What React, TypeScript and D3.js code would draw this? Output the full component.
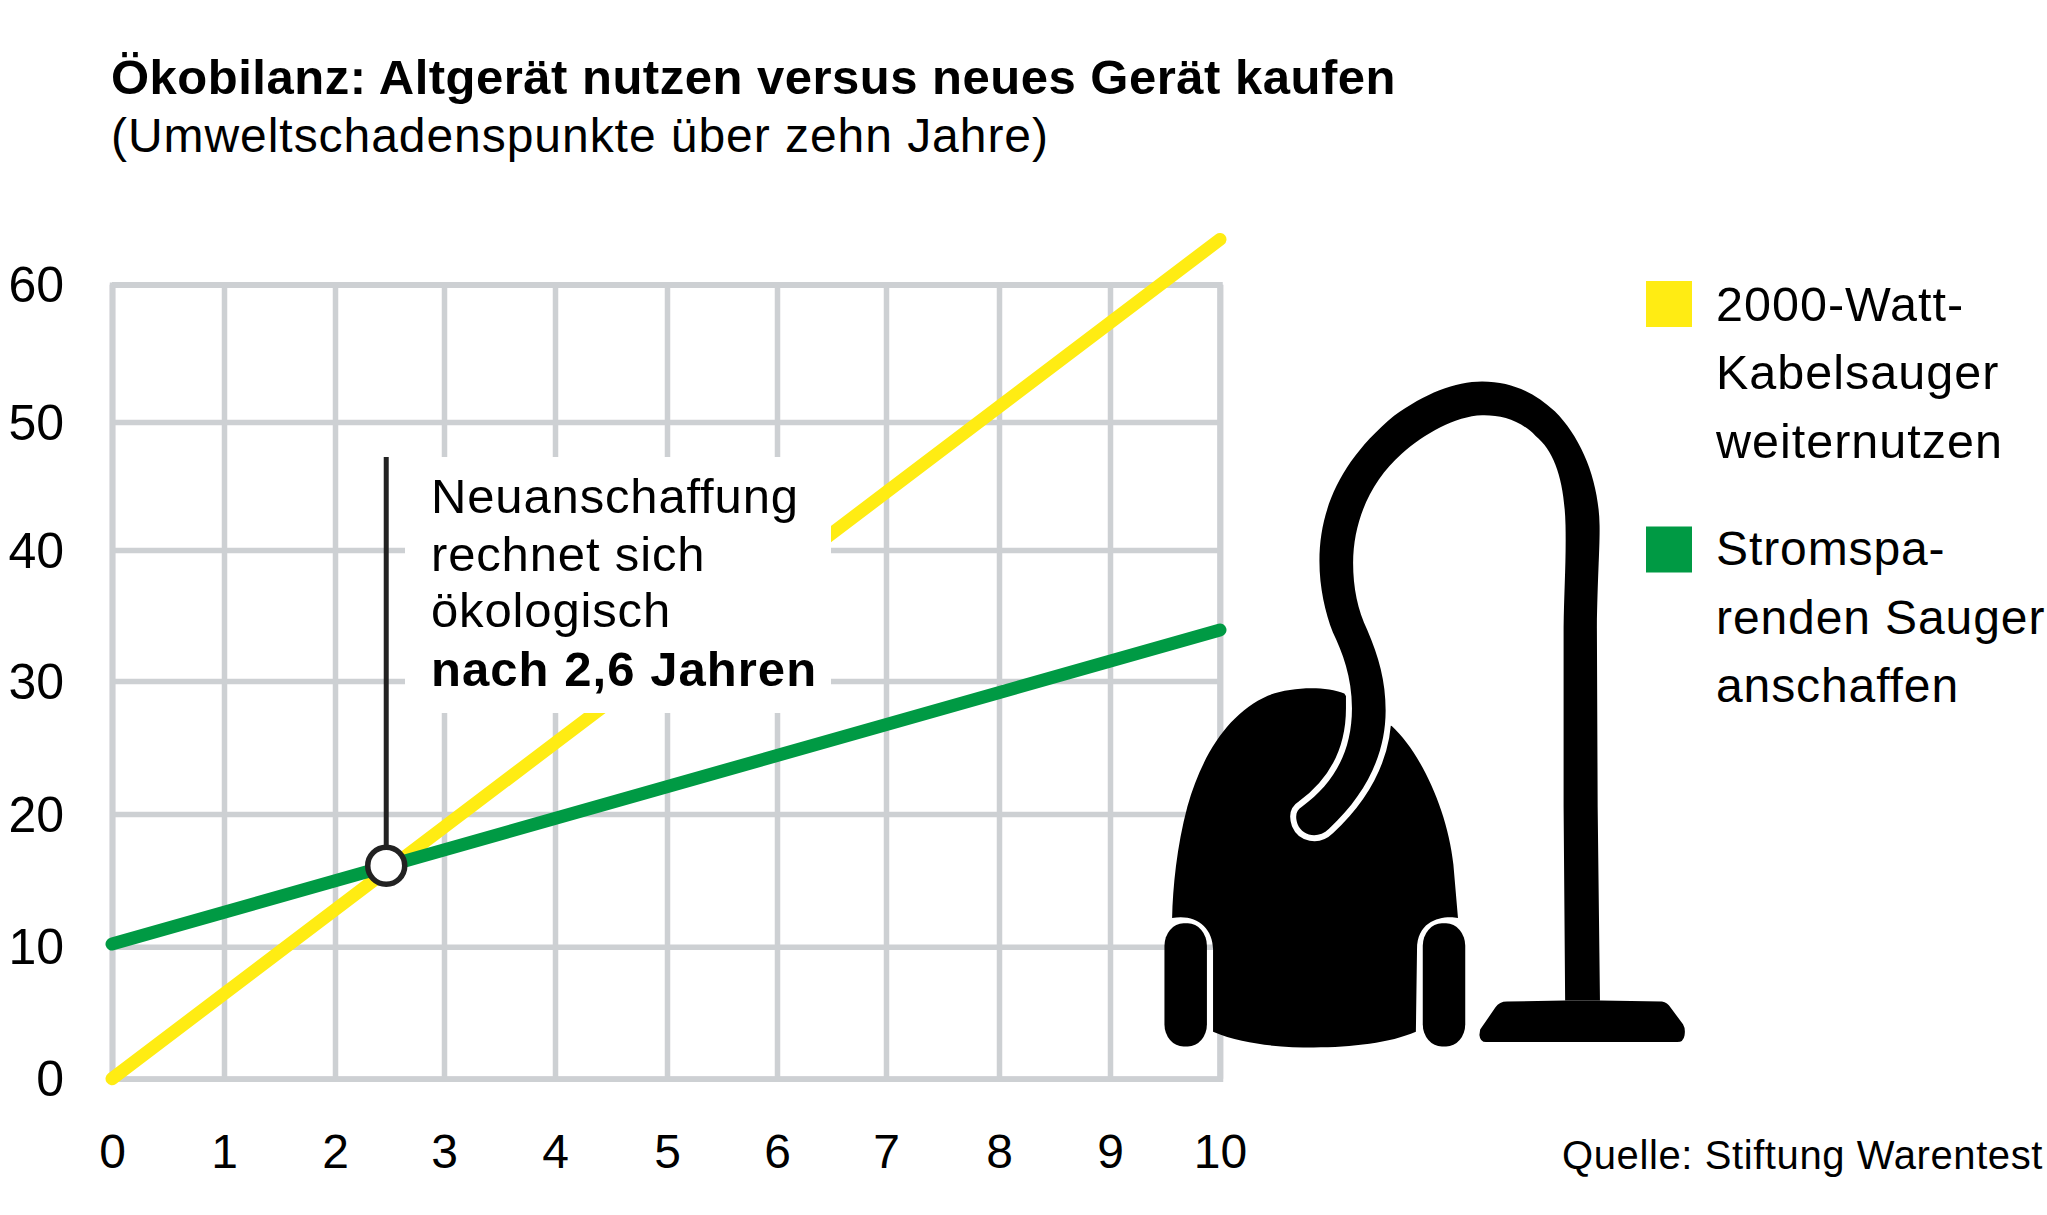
import { useEffect, useRef } from "react";
import * as d3 from "d3";

// values
const xTicks = [0, 1, 2, 3, 4, 5, 6, 7, 8, 9, 10];
const yTicks = [0, 10, 20, 30, 40, 50, 60];
const years = [0, 10];
const altgeraet = [0, 63.3];
const sparsauger = [10.2, 33.9];
const breakEven = { year: 2.47, points: 16.1 };

const titleText = "Ökobilanz: Altgerät nutzen versus neues Gerät kaufen";
const subtitleText = "(Umweltschadenspunkte über zehn Jahre)";
const calloutLines = ["Neuanschaffung", "rechnet sich", "ökologisch"];
const calloutBold = "nach 2,6 Jahren";
const legendYellow = ["2000-Watt-", "Kabelsauger", "weiternutzen"];
const legendGreen = ["Stromspa-", "renden Sauger", "anschaffen"];
const sourceText = "Quelle: Stiftung Warentest";

const FONT = "'Liberation Sans', Arial, sans-serif";
const GRID = "#cdd0d3";
const YELLOW = "#ffec13";
const GREEN = "#009a44";
const INK = "#000";

// vacuum cleaner icon, traced in a 1568x1568 box
const bodyPath =
  "M110,1250 C112,1180 122,1090 150,1000 C190,880 260,790 360,752 C420,732 510,730 560,747 L600,800 L684,820 C760,880 830,1010 845,1130 L857,1250 C825,1244 750,1250 750,1320 L747,1505 C680,1530 580,1540 480,1540 C400,1540 300,1535 217,1505 L217,1320 C217,1270 170,1240 110,1250 Z";
const hosePath =
  "M450,1000 C530,950 580,880 580,780 C580,710 555,655 530,610 C510,565 495,510 495,450 C495,335 550,225 690,125 C770,75 850,48 920,48 C1000,48 1060,75 1110,115 C1180,175 1225,270 1227,370 C1228,420 1222,480 1220,600 L1222,1000 L1228,1435 L1137,1435 L1133,1000 L1133,600 C1134,520 1140,450 1138,370 C1135,270 1110,205 1060,170 C1020,135 970,123 920,124 C850,126 770,165 710,210 C630,270 583,360 583,455 C583,510 595,560 620,605 C650,665 668,720 668,785 C668,880 620,970 520,1050 C490,1075 450,1065 438,1040 C430,1020 435,1008 450,1000 Z";
const hoseTail =
  "M580,745 L580,780 C580,880 530,950 450,1000 C435,1008 430,1020 438,1040 C450,1065 490,1075 520,1050 C620,970 668,880 668,785 L668,770";
const nozzlePath =
  "M915,1500 L955,1450 Q965,1437 985,1437 L1137,1435 L1228,1435 L1390,1437 Q1405,1440 1412,1450 L1445,1488 Q1452,1498 1449,1513 Q1446,1528 1430,1528 L930,1528 Q915,1528 913,1512 Z";

export default function App() {
  const svgRef = useRef<SVGSVGElement>(null);

  useEffect(() => {
    if (!svgRef.current) return;
    const svg = d3.select(svgRef.current);
    svg.selectAll("*").remove();

    // grid lines in the picture are not quite evenly spaced
    const x = d3.scaleLinear()
      .domain(xTicks)
      .range([112, 224, 335, 444, 555, 667, 777, 886, 999, 1110, 1220]);
    const y = d3.scaleLinear()
      .domain(yTicks)
      .range([1078.7, 946.7, 814, 681, 550, 422, 284.7]);

    const text = (
      parent: d3.Selection<any, any, any, any>,
      str: string, tx: number, ty: number, size: number, spacing = 0, weight = "normal",
    ) =>
      parent.append("text")
        .attr("x", tx)
        .attr("y", ty)
        .attr("font-family", FONT)
        .attr("font-size", size)
        .attr("font-weight", weight)
        .attr("letter-spacing", spacing)
        .attr("fill", INK)
        .text(str);

    // title
    text(svg, titleText, 111, 94, 49, 0.5, "bold");
    text(svg, subtitleText, 111, 152, 48, 0.95);

    // grid and axes
    const gx = svg.append("g")
      .attr("transform", `translate(0,${y(0)})`)
      .call(d3.axisBottom<number>(x).tickValues(xTicks).tickSize(y(60) - y(0)).tickPadding(0).tickFormat(d3.format("d")));
    gx.select(".domain").attr("stroke", GRID).attr("stroke-width", 5.5);
    gx.selectAll("line").attr("stroke", GRID).attr("stroke-width", 5.5);
    gx.selectAll("text")
      .attr("y", 89)
      .attr("dy", 0)
      .attr("fill", INK)
      .attr("font-family", FONT)
      .attr("font-size", 48);

    const gy = svg.append("g")
      .attr("transform", `translate(${x(0)},0)`)
      .call(d3.axisLeft<number>(y).tickValues(yTicks).tickSize(x(0) - x(10)).tickPadding(0).tickFormat(d3.format("d")));
    gy.select(".domain").attr("stroke", GRID).attr("stroke-width", 5.5);
    gy.selectAll("line").attr("stroke", GRID).attr("stroke-width", 5.5);
    gy.selectAll("text")
      .attr("x", -48)
      .attr("dy", 17)
      .attr("fill", INK)
      .attr("font-family", FONT)
      .attr("font-size", 50);

    // closing the top and right sides of the grid
    svg.append("path")
      .attr("d", `M${x(0)},${y(60)}H${x(10)}V${y(0)}`)
      .attr("fill", "none")
      .attr("stroke", GRID)
      .attr("stroke-width", 5.5);

    // series
    const line = d3.line<number>()
      .x((_, i) => x(years[i]))
      .y(d => y(d));

    svg.append("path")
      .attr("d", line(altgeraet))
      .attr("fill", "none")
      .attr("stroke", YELLOW)
      .attr("stroke-width", 13)
      .attr("stroke-linecap", "round");

    // callout box hides grid and yellow line
    svg.append("rect")
      .attr("x", 405)
      .attr("y", 457)
      .attr("width", 426)
      .attr("height", 256)
      .attr("fill", "#fff");

    svg.append("path")
      .attr("d", line(sparsauger))
      .attr("fill", "none")
      .attr("stroke", GREEN)
      .attr("stroke-width", 13)
      .attr("stroke-linecap", "round");

    // break-even marker
    svg.append("line")
      .attr("x1", x(breakEven.year))
      .attr("x2", x(breakEven.year))
      .attr("y1", 457)
      .attr("y2", y(breakEven.points))
      .attr("stroke", "#222")
      .attr("stroke-width", 5);
    svg.append("circle")
      .attr("cx", x(breakEven.year))
      .attr("cy", y(breakEven.points))
      .attr("r", 18.5)
      .attr("fill", "#fff")
      .attr("stroke", "#222")
      .attr("stroke-width", 5.5);

    const calloutBase = [512.7, 570.7, 627];
    calloutLines.forEach((l, i) => text(svg, l, 431, calloutBase[i], 49, 0.85));
    text(svg, calloutBold, 431, 686, 49, 1.05, "bold");

    // vacuum icon
    const icon = svg.append("g").attr("transform", "translate(1130,360) scale(0.3827,0.4464)");
    icon.append("path").attr("d", bodyPath).attr("fill", "#000");
    icon.append("path")
      .attr("d", hoseTail)
      .attr("fill", "none")
      .attr("stroke", "#fff")
      .attr("stroke-width", 12)
      .attr("vector-effect", "non-scaling-stroke");
    icon.append("path").attr("d", hosePath).attr("fill", "#000");
    icon.append("path").attr("d", nozzlePath).attr("fill", "#000");
    [90, 765].forEach(wx =>
      icon.append("rect")
        .attr("x", wx)
        .attr("y", 1262)
        .attr("width", 111)
        .attr("height", 276)
        .attr("rx", 50)
        .attr("ry", 50)
        .attr("fill", "#000"));

    // legend
    svg.append("rect").attr("x", 1646).attr("y", 281).attr("width", 46).attr("height", 46).attr("fill", YELLOW);
    svg.append("rect").attr("x", 1646).attr("y", 526.5).attr("width", 46).attr("height", 46).attr("fill", GREEN);
    const yellowBase = [320.5, 389, 458];
    const greenBase = [565, 633.5, 702];
    legendYellow.forEach((l, i) => text(svg, l, 1716, yellowBase[i], 48.5, 1));
    legendGreen.forEach((l, i) => text(svg, l, 1716, greenBase[i], 48, 0.9));

    // source
    text(svg, sourceText, 1562, 1169, 40, 0.6);
  }, []);

  return (
    <svg
      ref={svgRef}
      width={2047}
      height={1215}
      style={{ position: "absolute", left: 0, top: 0, background: "#fff" }}
    ></svg>
  );
}
